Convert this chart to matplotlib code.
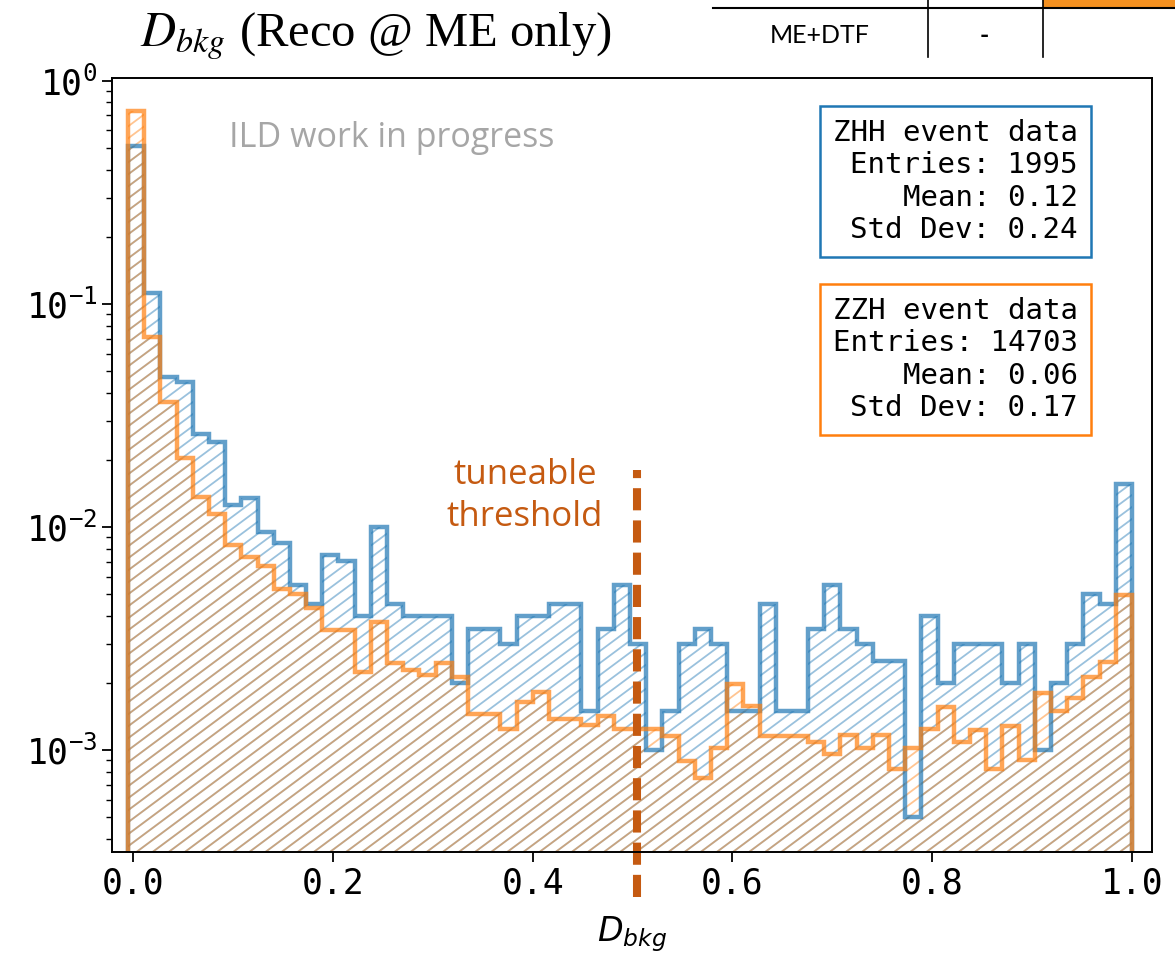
import matplotlib.pyplot as plt
from matplotlib.lines import Line2D
from matplotlib.patches import Rectangle
from matplotlib.collections import LineCollection
import numpy as np

plt.rcParams['font.family'] = ['DejaVu Sans Mono']
plt.rcParams['mathtext.fontset'] = 'dejavusans'

# D_bkg histogram: 62 equal bins between these limits
bin_lo = -0.005
bin_hi = 1.0
n_bins = 62

# ZHH: counts per bin (normalised by number of entries)
zhh_entries = 1995
zhh_counts = [1017, 223, 94, 89, 52, 48, 25, 27, 19, 17, 11, 9, 15, 14, 8, 20,
              9, 8, 8, 8, 4, 7, 7, 6, 8, 8, 9, 9, 3, 7, 11, 6, 2, 3, 6, 7,
              6, 3, 3, 9, 3, 3, 7, 11, 7, 6, 5, 5, 1, 8, 4, 6, 6, 6, 4, 6,
              2, 4, 6, 10, 9, 31]

# ZZH: fraction of events per bin
zzh_frac = [0.729, 0.0714, 0.0365, 0.0205, 0.01367, 0.0115, 0.0083, 0.00731,
            0.00671, 0.00526, 0.00504, 0.00432, 0.00345, 0.00345, 0.002245,
            0.00376, 0.00247, 0.00228, 0.00217, 0.00247, 0.00213, 0.00146,
            0.00145, 0.00124, 0.00164, 0.00182, 0.00138, 0.00138, 0.0013,
            0.00143, 0.00124, 0.00124, 0.00124, 0.00116, 0.00089, 0.00075,
            0.00102, 0.00199, 0.00158, 0.00116, 0.00116, 0.00116, 0.00109,
            0.00096, 0.00117, 0.00102, 0.00117, 0.00082, 0.00102, 0.00124,
            0.00157, 0.00109, 0.00123, 0.00082, 0.00129, 0.0009, 0.0018,
            0.0015, 0.00172, 0.00213, 0.00249, 0.00495]

zhh_label = "ZHH event data\nEntries: 1995\nMean: 0.12\nStd Dev: 0.24"
zzh_label = "ZZH event data\nEntries: 14703\nMean: 0.06\nStd Dev: 0.17"

threshold = 0.505

edges = np.linspace(bin_lo, bin_hi, n_bins + 1)
centers = (edges[:-1] + edges[1:]) / 2
zhh_frac = np.array(zhh_counts) / zhh_entries

fig = plt.figure(figsize=(11.75, 9.57), dpi=100)
ax = fig.add_axes([0.0953, 0.1097, 0.8851, 0.8088])


def add_hatch(patch, color):
    # diagonal hatching (shallower than the built-in 45 deg one), clipped to the histogram
    segs = []
    for c in np.arange(-1.0, 1.0, 0.0155):
        xa, xb = max(0.0, -c), min(1.0, 1.0 - c)
        segs.append([(xa, xa + c), (xb, xb + c)])
    lc = LineCollection(segs, colors=color, linewidths=1.3, alpha=0.45,
                        transform=ax.transAxes, zorder=1)
    lc.set_clip_path(patch)
    ax.add_collection(lc, autolim=False)


_, _, p1 = ax.hist(centers, bins=edges, weights=zhh_frac, bottom=1e-6, histtype='step',
                   color='#1f77b4', alpha=0.7, linewidth=3.2)
add_hatch(p1[0], '#1f77b4')
_, _, p2 = ax.hist(centers, bins=edges, weights=zzh_frac, bottom=1e-6, histtype='step',
                   color='#ff7f0e', alpha=0.7, linewidth=3.2)
add_hatch(p2[0], '#ff7f0e')

ax.set_yscale('log')
ax.set_ylim(3.5e-4, 1.03)
ax.set_xlim(-0.021, 1.02)
ax.set_xticks([0.0, 0.2, 0.4, 0.6, 0.8, 1.0])
ax.tick_params(labelsize=25, length=7, width=1.3)
ax.tick_params(which='minor', length=4, width=1.0)
for s in ax.spines.values():
    s.set_linewidth(1.4)
ax.set_xlabel('$D_{bkg}$', fontsize=24, labelpad=10)

box_kw = dict(boxstyle='square,pad=0.45', fc='white', lw=1.8)
ax.text(0.9288, 0.947, zhh_label, transform=ax.transAxes, ha='right', va='top',
        multialignment='right', fontsize=21,
        bbox=dict(ec='#1f77b4', **box_kw))
ax.text(0.9288, 0.717, zzh_label, transform=ax.transAxes, ha='right', va='top',
        multialignment='right', fontsize=21,
        bbox=dict(ec='#ff7f0e', **box_kw))

# slide annotations
ax.axvline(threshold, ymin=-0.058, ymax=0.494, clip_on=False, color='#c55a11',
           lw=5.8, ls=(0, (2.75, 1.25)))
fig.text(0.4468, 0.4817, 'tuneable\nthreshold', ha='center', va='center',
         color='#c55a11', fontsize=25, family='Open Sans', linespacing=1.3)
fig.text(0.3336, 0.8558, 'ILD work in progress', ha='center', va='center',
         color='#a6a6a6', fontsize=24.5, family='Open Sans')

fig.text(0.119, 0.952, '$D_{bkg}$ (Reco @ ME only)', ha='left', va='baseline',
         fontsize=35, family='Liberation Serif', math_fontfamily='stix')

# fragment of the table at the top right of the slide
fig.add_artist(Rectangle((0.8877, 0.9916), 0.1123, 0.0084, transform=fig.transFigure,
                         color='#f39020', lw=0))
fig.add_artist(Line2D([0.6068, 1.0], [0.9916, 0.9916], transform=fig.transFigure,
                      color='black', lw=1.5))
for xv in [0.7898, 0.8877]:
    fig.add_artist(Line2D([xv, xv], [0.9404, 1.0], transform=fig.transFigure,
                          color='black', lw=1.2))
fig.text(0.698, 0.9634, 'ME+DTF', ha='center', va='center', fontsize=18, family='Lato')
fig.text(0.838, 0.9634, '-', ha='center', va='center', fontsize=18, family='Lato',
         fontweight='bold')

fig.savefig('out.png', dpi=100)
